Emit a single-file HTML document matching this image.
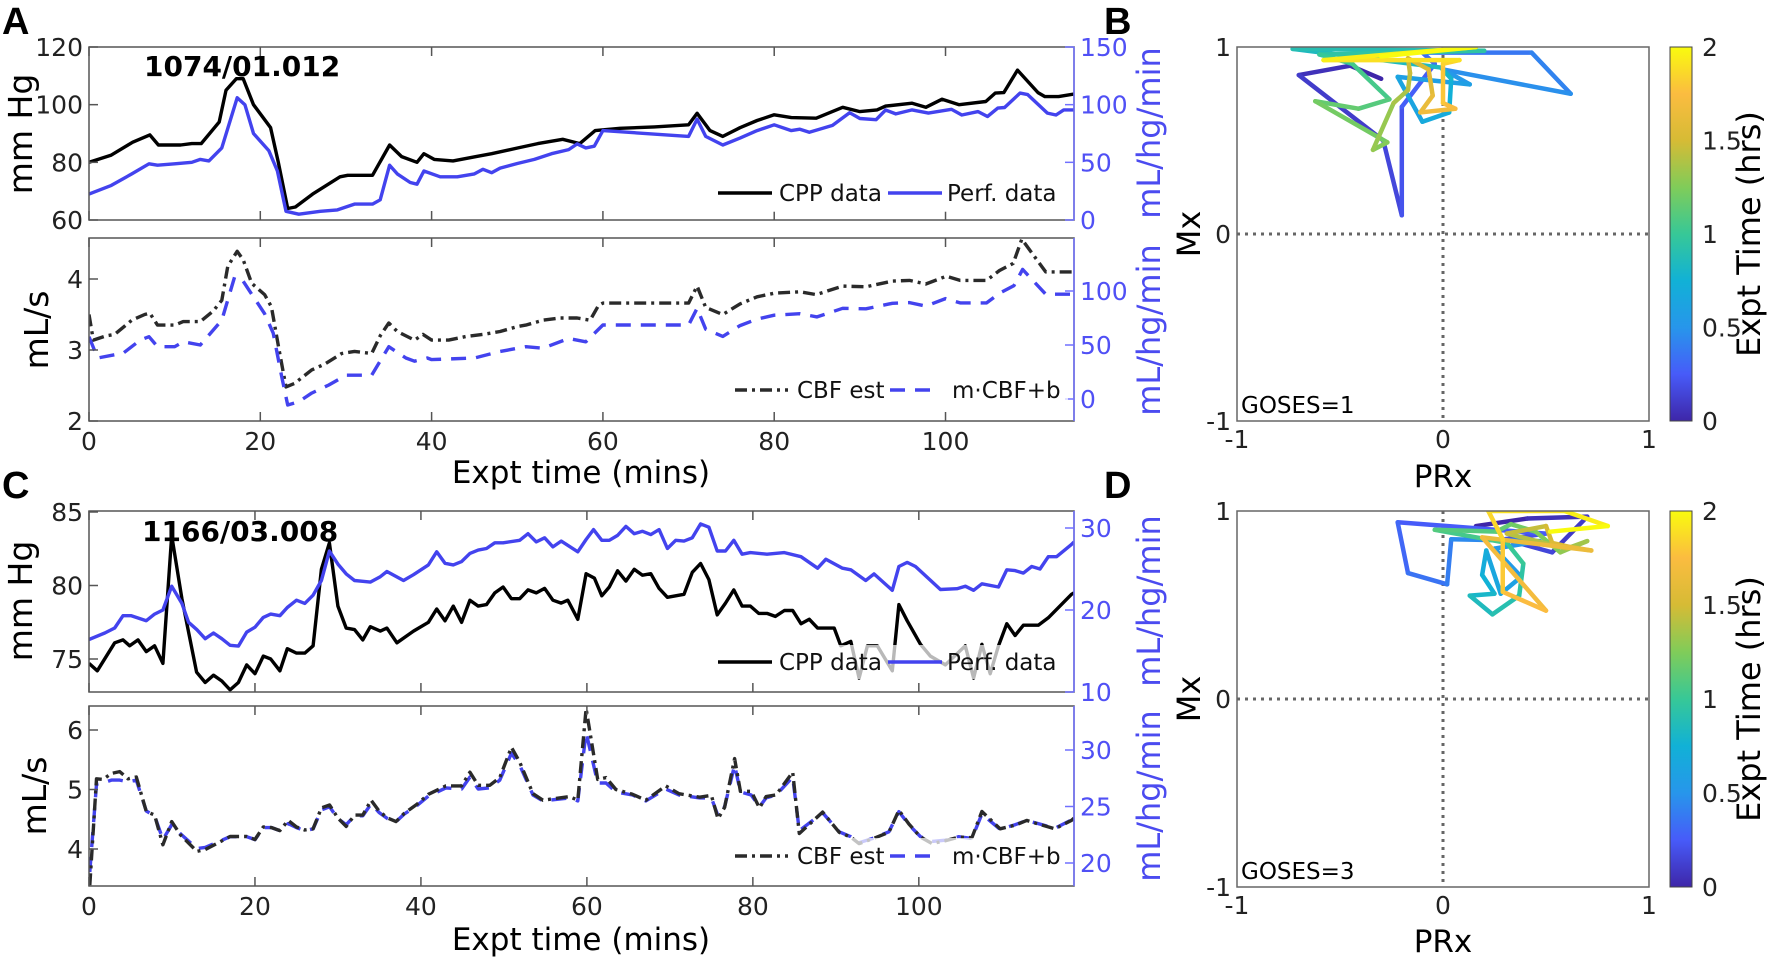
<!DOCTYPE html>
<html><head><meta charset="utf-8">
<style>
html,body{margin:0;padding:0;background:#fff;}
svg{display:block;font-family:"DejaVu Sans","Liberation Sans",sans-serif;}
</style></head>
<body>
<svg id="fig" width="1772" height="958" viewBox="0 0 1772 958" xmlns="http://www.w3.org/2000/svg">
<defs>
<linearGradient id="parula" x1="0" y1="1" x2="0" y2="0">
<stop offset="0" stop-color="#3e26a8"/><stop offset="0.125" stop-color="#475bf9"/><stop offset="0.25" stop-color="#2796eb"/><stop offset="0.375" stop-color="#11b1d6"/><stop offset="0.5" stop-color="#37c897"/><stop offset="0.625" stop-color="#80cc59"/><stop offset="0.75" stop-color="#d6bb35"/><stop offset="0.875" stop-color="#fbbc40"/><stop offset="1" stop-color="#f9fb0e"/>
</linearGradient>
<clipPath id="clipAT"><rect x="89" y="47" width="985" height="173"/></clipPath>
<clipPath id="clipAL"><rect x="89" y="238" width="985" height="183"/></clipPath>
<clipPath id="clipCT"><rect x="89" y="511" width="985" height="181"/></clipPath>
<clipPath id="clipCL"><rect x="89" y="706" width="985" height="180"/></clipPath>
<clipPath id="clipB"><rect x="1237" y="47" width="412" height="374"/></clipPath>
<clipPath id="clipD"><rect x="1237" y="511" width="412" height="376"/></clipPath>
</defs>

<text x="2" y="34" font-size="38" font-weight="bold" font-family="Liberation Sans">A</text>
<text x="1104" y="34" font-size="38" font-weight="bold" font-family="Liberation Sans">B</text>
<text x="2" y="498" font-size="38" font-weight="bold" font-family="Liberation Sans">C</text>
<text x="1104" y="498" font-size="38" font-weight="bold" font-family="Liberation Sans">D</text>

<g id="layers"></g>

<text x="144" y="76" font-size="28" font-weight="bold">1074/01.012</text>
<text x="142" y="541" font-size="28" font-weight="bold">1166/03.008</text>

<text transform="translate(32,134) rotate(-90)" text-anchor="middle" font-size="33">mm Hg</text>
<text transform="translate(48,330) rotate(-90)" text-anchor="middle" font-size="33">mL/s</text>
<text transform="translate(1160,133) rotate(-90)" text-anchor="middle" font-size="32" fill="#4b4bf0">mL/hg/min</text>
<text transform="translate(1160,330) rotate(-90)" text-anchor="middle" font-size="32" fill="#4b4bf0">mL/hg/min</text>
<text x="581" y="483" text-anchor="middle" font-size="31">Expt time (mins)</text>
<text transform="translate(32,601) rotate(-90)" text-anchor="middle" font-size="33">mm Hg</text>
<text transform="translate(46,796) rotate(-90)" text-anchor="middle" font-size="33">mL/s</text>
<text transform="translate(1160,601) rotate(-90)" text-anchor="middle" font-size="32" fill="#4b4bf0">mL/hg/min</text>
<text transform="translate(1160,796) rotate(-90)" text-anchor="middle" font-size="32" fill="#4b4bf0">mL/hg/min</text>
<text x="581" y="950" text-anchor="middle" font-size="31">Expt time (mins)</text>

<text transform="translate(1200,234) rotate(-90)" text-anchor="middle" font-size="32">Mx</text>
<text x="1443" y="487" text-anchor="middle" font-size="31">PRx</text>
<text transform="translate(1760,234) rotate(-90)" text-anchor="middle" font-size="32">Expt Time (hrs)</text>
<text x="1241" y="413" font-size="23">GOSES=1</text>

<text transform="translate(1200,699) rotate(-90)" text-anchor="middle" font-size="32">Mx</text>
<text x="1443" y="952" text-anchor="middle" font-size="31">PRx</text>
<text transform="translate(1760,699) rotate(-90)" text-anchor="middle" font-size="32">Expt Time (hrs)</text>
<text x="1241" y="879" font-size="23">GOSES=3</text>

<rect x="1670" y="47" width="22" height="374" fill="url(#parula)" stroke="#444" stroke-width="1"/>
<rect x="1670" y="511" width="22" height="376" fill="url(#parula)" stroke="#444" stroke-width="1"/>
</svg>

<script>
// ---------- Panel A data ----------
const aXTicks = [0, 20, 40, 60, 80, 100];
const aCppT = [0,2.6,5.1,7.1,8.1,10.7,12,13.1,15.2,16,17.2,18,19.2,21.2,22.1,23.2,24.1,26.1,27.7,29.3,30.2,33.1,35.1,36.5,38.3,39.1,40.3,42.5,45.2,47,50.1,52.4,55.3,57.3,59.1,62,66,70,71,72.5,74,76,78,80,82,84.9,88,90,92,93,96.1,97.7,99.6,101.6,104.7,105.8,106.8,108.4,110.8,111.6,113.2,115];
const aCppV = [80,82.5,87,89.5,86,86,86.5,86.5,94,105,109,109,100,92,80,64,64.5,69,72,75,75.5,75.5,86,82,80,83,81,80.5,82,83,85,86.5,88,86.5,91,91.8,92.3,93,97,91,89,92,94.5,96.5,95.5,95.3,99.1,97.6,98.2,99.5,100.5,99.1,101.9,100,101.1,104,104.2,112,104.2,102.8,102.8,103.7];
const aPerfT = [0,2.6,5,7,8,10,12,13,14,15.5,17.3,18.2,19.2,21,22,23,24.5,27,29,31,33.1,34,35.1,36,37.5,38.3,39.1,41,43,45,46,47,48,50,52,54,56,57,58,59,60,70,71,72,74,76,78,80,82,83,84.1,86.8,88.8,90,91.9,93,94.2,96.1,98,100.7,101.9,103.8,104.9,106.1,106.9,108.7,109.6,111.9,112.9,113.8,115];
const aPerfV = [22.5,30,40,48.75,47.5,48.75,50,52.5,51.25,62.5,106,100,75,60,42.5,7.5,5,7.5,8.75,13.75,13.75,17.5,47.5,40,32.5,31,42.5,37.5,37.5,40,44,41,45,49,52.5,57.5,61,66,62.5,64,77.5,72.5,87.5,72.5,65,71,77.5,82.5,77.5,78.7,76,82,93,88,87,95.4,92,95.5,92.7,96,91,94,89.7,97,97.5,110,108.7,92.7,91,95.5,95.5];
const aCbfT = [0,0.5,2,3,5,6.5,7.1,8,10,11,13,14.5,15.5,16.2,17.3,18,19,20.5,21.3,22.2,23,24,26,27.5,29.5,31,33,34,35,36,38,39,40,42,44,46,48,50,51,53,55,57,58.5,59.5,60,70,71,72,74,76,78,80,83,84.9,88,90.7,93.8,95.8,97.7,100.1,101.7,104.8,106.3,107.9,108.9,111.7,115];
const aCbfV = [3.5,3.14,3.2,3.22,3.42,3.5,3.52,3.35,3.35,3.4,3.4,3.55,3.7,4.18,4.39,4.27,3.94,3.78,3.61,3,2.48,2.53,2.72,2.8,2.95,2.98,2.95,3.2,3.38,3.26,3.14,3.22,3.14,3.14,3.19,3.22,3.26,3.33,3.35,3.42,3.45,3.45,3.42,3.63,3.66,3.66,3.9,3.6,3.5,3.65,3.75,3.8,3.82,3.78,3.9,3.89,3.97,3.98,3.93,4.04,3.98,3.98,4.12,4.22,4.56,4.1,4.1];
const aMcbfT = [0,1,4,6,7,8,10,11,13,15.5,17,18,20.5,21.5,22.5,23.2,24.5,26,28,30,33,35,37,38,39.5,40,45,48,51,53,56,58,60,70,71,72,74,76,78,80,83,85,88,90.7,93.8,95.8,97.7,100,101.7,104.8,106.3,108,109,111.7,115];
const aMcbfV = [57.7,38,42.5,54.6,57.7,48.4,48.4,53,50,73,113,109,79,61,20.7,-5.6,-2.5,5.5,13,22,22,48.4,38,35,38,36.5,38,44,48.4,47,56,53,68.5,68.5,84,64.6,58,68,74,77.6,79,76,84,83.5,88.6,89.3,86,93,89,89,98,105,120,97,97];
const aTopLeftTicks = [60, 80, 100, 120];
const aTopRightTicks = [0, 50, 100, 150];
const aLowLeftTicks = [2, 3, 4];
const aLowRightTicks = [0, 50, 100];

// ---------- Panel C data ----------
const cXTicks = [0, 20, 40, 60, 80, 100];
const cCppT = [0,1,3.1,4.1,4.9,5.9,6.9,7.9,8.9,9.96,11.2,12.97,14,15,16,17,18,19,20,21,21.9,23,23.9,25,26,27,28,28.97,30,31,32,33,33.9,35.1,35.9,37.1,39.1,40.9,41.9,42.9,43.9,44.9,45.9,46.9,47.9,48.9,49.9,50.9,51.9,52.9,53.9,54.9,55.9,56.9,57.7,58.9,59.9,60.9,61.8,62.7,63.7,64.7,65.7,66.7,67.7,68.7,69.7,71.7,72.7,73.7,74.7,75.7,76.7,77.7,78.7,79.7,80.7,81.7,82.7,83.8,84.8,85.8,86.8,87.8,89.8,90.6,91.8,92.8,93.8,95,96.8,97.6,98.6,100.2,101.4,103.2,105.6,106.6,107.6,108.6,109.6,110.6,111.6,112.6,114.4,115.6,118.4,118.7];
const cCppV = [74.7,74.2,76.1,76.3,75.9,76.3,75.5,75.9,74.7,83.4,79.1,74.1,73.4,73.9,73.5,72.9,73.4,74.6,74,75.2,75,74.2,75.7,75.4,75.4,75.9,81.1,82.9,78.6,77.1,77,76.3,77.2,76.9,77.1,76.1,76.9,77.5,78.4,77.6,78.6,77.5,79,78.6,78.7,79.5,79.9,79.1,79.1,79.7,79.5,79.8,79,78.8,79,77.7,80.8,80.5,79.3,79.9,81,80.3,81.1,80.7,80.8,79.8,79.2,79.4,80.9,81.5,80.4,78,78.8,79.7,78.6,78.6,78.1,78.1,77.9,78.3,78.3,77.4,77.7,77.1,77.1,75.9,76.2,73.7,75.9,75.9,74.2,78.7,77.6,76,75.2,74.6,75.9,73.7,76,74,75.9,77.4,76.6,77.3,77.3,77.8,79.4,79.5];
const cPerfT = [0,1.9,3.1,4.1,5.1,6.9,7.9,8.9,9.96,11.2,12,13,14,15,16,17,18,19,20,21,21.9,23,23.9,25,26,27,28,28.97,30,31,32,33,33.9,35.1,35.9,37.9,39.1,40.9,41.9,42.9,43.9,44.9,45.9,46.9,47.9,48.9,49.9,51.9,52.9,53.9,54.9,55.9,56.9,58.9,59.9,60.8,61.8,62.7,63.7,64.7,65.7,66.7,67.7,68.7,69.7,70.7,71.7,72.7,73.7,74.7,75.7,76.7,77.7,78.7,79.7,81.7,83.8,85.8,87.8,88.8,90.8,91.8,93.6,94.6,96.8,97.6,98.6,99.6,102.6,104.6,105.6,106.6,107.6,109.6,110.6,111.6,112.6,113.6,114.6,115.6,116.6,118.4,118.7];
const cPerfV = [16.4,17.2,17.8,19.3,19.3,18.7,19.5,20,22.9,20.8,18.5,17.6,16.5,17.2,16.5,15.7,15.6,17.3,17.9,19.1,19.5,19.3,20.3,21.2,20.8,21.8,23.6,27.2,25.6,24.4,23.6,23.5,23.4,24.06,24.7,23.6,24.3,25.5,27.1,25.7,25.5,25.9,26.9,27.3,27.5,28.2,28.2,28.5,29.3,28.3,28.8,27.7,28.4,27.1,28.6,29.8,28.5,28.5,29.1,30.2,29.3,29.6,29.2,29.8,27.5,28.5,28.4,28.8,30.5,30.1,27.2,27.2,28.5,26.8,27,26.8,27,26.5,25.1,26.2,25.1,24.9,23.6,24.4,22.4,25.3,25.8,25.3,22.5,22.6,22.9,22.4,23.2,22.8,24.9,24.8,24.5,25.3,25,26.5,26.5,28,28.3];
const cCbfT = [0.1,0.9,1.7,2.7,3.7,4.7,5.7,6.9,7.9,8.9,9.96,11,13,14,17,19,20,21,22,23,24,25,26,27,28,29,30,31,32,33,34,35,36,37,38,39.5,40.9,43,44.9,45.9,46.9,48.3,49.5,50.9,51.9,53.5,54.7,57.9,58.9,59.9,61.3,62.3,63.5,65.5,67.1,69.5,71.1,73.6,75,75.8,76.6,77.8,78.5,79.8,80.8,81.6,82.8,84.8,85.6,88.4,90.4,91.8,92.8,94.4,96.4,97.6,98.8,100.2,101.6,103.2,104.8,106.4,107.6,109.8,111.6,113,114.4,116.4,118.4,118.7];
const cCbfV = [3.39,5.18,5.17,5.27,5.3,5.18,5.21,4.63,4.57,4.07,4.46,4.24,3.96,3.99,4.21,4.21,4.16,4.37,4.36,4.31,4.48,4.37,4.32,4.34,4.69,4.74,4.52,4.38,4.57,4.57,4.82,4.63,4.52,4.46,4.6,4.75,4.92,5.06,5.06,5.29,5.07,5.07,5.2,5.71,5.46,4.93,4.82,4.88,4.82,6.36,5.17,5.2,5.0,4.92,4.82,5.06,4.93,4.87,4.9,4.51,4.7,5.52,4.97,4.97,4.69,4.88,4.91,5.29,4.26,4.62,4.28,4.2,4.09,4.17,4.28,4.65,4.42,4.2,4.09,4.14,4.2,4.19,4.63,4.34,4.4,4.48,4.42,4.34,4.48,4.52];
const cMcbfV = [19.2,26.97,27.08,27.34,27.34,27.18,27.34,24.6,24.18,22.07,23.39,22.6,21.28,21.38,22.33,22.33,22.07,23.13,23.13,22.86,23.49,23.13,22.86,23.02,24.71,24.97,23.92,23.39,24.18,24.18,25.23,24.44,23.92,23.65,24.34,25.07,25.92,26.65,26.55,27.6,26.55,26.65,27.34,29.71,28.66,26.02,25.5,25.76,25.5,31.56,27.08,27.08,26.29,26.02,25.5,26.55,26.02,25.76,25.76,24.18,24.97,28.66,26.29,26.02,24.97,25.76,26.02,27.6,22.86,24.44,22.76,22.33,21.8,22.17,22.76,24.55,23.39,22.33,21.91,22.02,22.33,22.17,24.34,22.97,23.39,23.76,23.49,23.07,23.81,23.92];
const cTopLeftTicks = [75, 80, 85];
const cTopRightTicks = [10, 20, 30];
const cLowLeftTicks = [4, 5, 6];
const cLowRightTicks = [20, 25, 30];

// ---------- Panel B / D data ----------
const bPrx = [-0.3,-0.45,-0.7,-0.29,-0.2,-0.2,-0.04,-0.1,0.43,0.62,0.0,0.13,-0.22,-0.1,0.03,0.04,-0.01,-0.73,0.2,-0.6,-0.44,-0.26,-0.41,-0.62,-0.27,-0.34,-0.24,-0.17,-0.16,-0.17,-0.07,-0.05,-0.11,0.06,0.0,0.0,0.08,-0.58,0.16,-0.3];
const bMx = [0.83,0.9,0.85,0.5,0.1,0.68,0.91,0.97,0.97,0.75,0.88,0.8,0.84,0.6,0.65,0.83,0.89,0.99,0.98,0.96,0.91,0.72,0.67,0.71,0.49,0.45,0.7,0.77,0.86,0.94,0.88,0.74,0.65,0.67,0.7,0.91,0.93,0.93,1.0,0.95];
const dPrx = [0.16,0.41,0.7,0.53,0.3,0.5,-0.22,-0.17,0.02,0.04,0.47,0.25,0.38,0.28,0.21,0.19,0.25,0.13,0.24,0.37,0.39,0.31,-0.04,0.26,0.33,0.45,0.57,0.7,0.6,0.31,0.5,0.53,0.61,0.72,0.19,0.5,0.29,0.29,0.22,0.59,0.8,0.52];
const dMx = [0.92,0.96,0.97,0.78,0.85,0.88,0.94,0.67,0.61,0.85,0.84,0.8,0.65,0.56,0.79,0.66,0.56,0.55,0.45,0.55,0.72,0.83,0.9,0.89,0.93,0.89,0.78,0.84,0.8,0.88,0.92,0.83,0.81,0.79,0.86,0.47,0.57,0.85,1.0,1.0,0.92,0.89];
const pmTicks = [-1, 0, 1];
const cbTicks = [0, 0.5, 1, 1.5, 2];

// ---------- helpers ----------
const NS = 'http://www.w3.org/2000/svg';
const root = document.getElementById('layers');
const TICKFS = 25;
function mk(tag, attrs, parent) {
  const e = document.createElementNS(NS, tag);
  for (const k in attrs) e.setAttribute(k, attrs[k]);
  (parent || root).appendChild(e);
  return e;
}
function lin(d0, d1, r0, r1) { return v => r0 + (v - d0) * (r1 - r0) / (d1 - d0); }
function pathD(xs, ys, sx, sy) {
  const n = Math.min(xs.length, ys.length);
  let d = '';
  for (let i = 0; i < n; i++) d += (i ? 'L' : 'M') + sx(xs[i]).toFixed(1) + ',' + sy(ys[i]).toFixed(1);
  return d;
}
function series(xs, ys, sx, sy, clip, stroke, dash, name) {
  const p = mk('path', {d: pathD(xs, ys, sx, sy), fill: 'none', stroke: stroke, 'stroke-width': 3.4, 'stroke-linejoin': 'round', 'clip-path': 'url(#' + clip + ')'});
  if (dash) p.setAttribute('stroke-dasharray', dash);
  
  
  return p;
}
function tsFrame(x0, x1, y0, y1, name) {
  const r = mk('rect', {x: x0, y: y0, width: x1 - x0, height: y1 - y0, fill: 'none', stroke: '#555', 'stroke-width': 1.5});
  
  
  const l = mk('line', {x1: x1, y1: y0, x2: x1, y2: y1, stroke: '#7070ff', 'stroke-width': 1.5});
  
  
}
function xTicks(ticks, sx, y0, y1, labels, name) {
  ticks.forEach(t => {
    const x = sx(t);
    const a = mk('line', {x1: x, y1: y1, x2: x, y2: y1 - 9, stroke: '#555', 'stroke-width': 1.5});
    
    
    const b = mk('line', {x1: x, y1: y0, x2: x, y2: y0 + 9, stroke: '#555', 'stroke-width': 1.5});
    
    
    if (labels) {
      const tx = mk('text', {x: x, y: y1 + 29, 'text-anchor': 'middle', 'font-size': TICKFS, fill: '#222'});
      tx.textContent = String(t);
      
      
    }
  });
}
function yTicksLeft(ticks, sy, x0, name) {
  ticks.forEach(t => {
    const y = sy(t);
    const a = mk('line', {x1: x0, y1: y, x2: x0 + 9, y2: y, stroke: '#555', 'stroke-width': 1.5});
    
    
    const tx = mk('text', {x: x0 - 6, y: y + 9, 'text-anchor': 'end', 'font-size': TICKFS, fill: '#222'});
    tx.textContent = String(t);
    
    
  });
}
function yTicksRight(ticks, sy, x1, name) {
  ticks.forEach(t => {
    const y = sy(t);
    const a = mk('line', {x1: x1, y1: y, x2: x1 - 9, y2: y, stroke: '#7070ff', 'stroke-width': 1.5});
    
    
    const tx = mk('text', {x: x1 + 6, y: y + 9, 'text-anchor': 'start', 'font-size': TICKFS, fill: '#5050f5'});
    tx.textContent = String(t);
    
    
  });
}
function legend(x, y, w, h, items, name) {
  const bg = mk('rect', {x: x, y: y, width: w, height: h, fill: '#fff', 'fill-opacity': 0.72});
  
  
  items.forEach(it => {
    const ln = mk('line', {x1: it.x0, y1: y + h / 2, x2: it.x1, y2: y + h / 2, stroke: it.c, 'stroke-width': 3.4});
    if (it.dash) ln.setAttribute('stroke-dasharray', it.dash);
    
    
    const tx = mk('text', {x: it.tx, y: y + h / 2 + 8, 'font-size': 23, fill: '#111'});
    tx.textContent = it.label;
    
    
  });
}
const BLK = '#000', BLU = '#4343ee', DKG = '#2a2a2a';
const DASHDOT = '12 5 3 5', DASH = '15 10';

// ---------- Panel A ----------
const sxA = lin(0, 115, 89, 1074);
const syAT = lin(60, 120, 220, 47);
const syATR = lin(0, 150, 220, 47);
const syAL = lin(2, 4, 421, 279);
const syALR = lin(0, 100, 399, 291);
series(aCppT, aCppV, sxA, syAT, 'clipAT', BLK, null, 'cpp-line-a');
series(aPerfT, aPerfV, sxA, syATR, 'clipAT', BLU, null, 'perf-line-a');
series(aCbfT, aCbfV, sxA, syAL, 'clipAL', DKG, DASHDOT, 'cbf-est-line-a');
series(aMcbfT, aMcbfV, sxA, syALR, 'clipAL', BLU, DASH, 'mcbf-line-a');
tsFrame(89, 1074, 47, 220, 'a-top-axes');
tsFrame(89, 1074, 238, 421, 'a-low-axes');
xTicks(aXTicks, sxA, 47, 220, false, 'a-top-x');
xTicks(aXTicks, sxA, 238, 421, true, 'a-low-x');
yTicksLeft(aTopLeftTicks, syAT, 89, 'a-top-y');
yTicksRight(aTopRightTicks, syATR, 1074, 'a-top-right-y');
yTicksLeft(aLowLeftTicks, syAL, 89, 'a-low-y');
yTicksRight(aLowRightTicks, syALR, 1074, 'a-low-right-y');
legend(712, 174, 356, 38, [{x0: 718, x1: 772, c: BLK, tx: 779, label: 'CPP data'}, {x0: 888, x1: 942, c: BLU, tx: 947, label: 'Perf. data'}], 'legend-a-top');
legend(728, 372, 340, 36, [{x0: 735, x1: 788, c: DKG, dash: DASHDOT, tx: 797, label: 'CBF est'}, {x0: 890, x1: 935, c: BLU, dash: DASH, tx: 952, label: 'm\u00b7CBF+b'}], 'legend-a-low');

// ---------- Panel C ----------
const sxC = lin(0, 118.7, 89, 1074);
const syCT = lin(75, 85, 659, 512);
const syCTR = lin(10, 30, 692, 528);
const syCL = lin(4, 6, 849, 730);
const syCLR = lin(20, 30, 863, 750);
series(cCppT, cCppV, sxC, syCT, 'clipCT', BLK, null, 'cpp-line-c');
series(cPerfT, cPerfV, sxC, syCTR, 'clipCT', BLU, null, 'perf-line-c');
series(cCbfT, cMcbfV, sxC, syCLR, 'clipCL', BLU, DASH, 'mcbf-line-c');
series(cCbfT, cCbfV, sxC, syCL, 'clipCL', DKG, DASHDOT, 'cbf-est-line-c');
legend(712, 645, 356, 34, [{x0: 718, x1: 772, c: BLK, tx: 779, label: 'CPP data'}, {x0: 888, x1: 942, c: BLU, tx: 947, label: 'Perf. data'}], 'legend-c-top');
legend(728, 838, 340, 36, [{x0: 735, x1: 788, c: DKG, dash: DASHDOT, tx: 797, label: 'CBF est'}, {x0: 890, x1: 935, c: BLU, dash: DASH, tx: 952, label: 'm\u00b7CBF+b'}], 'legend-c-low');
tsFrame(89, 1074, 511, 692, 'c-top-axes');
tsFrame(89, 1074, 706, 886, 'c-low-axes');
xTicks(cXTicks, sxC, 511, 692, false, 'c-top-x');
xTicks(cXTicks, sxC, 706, 886, true, 'c-low-x');
yTicksLeft(cTopLeftTicks, syCT, 89, 'c-top-y');
yTicksRight(cTopRightTicks, syCTR, 1074, 'c-top-right-y');
yTicksLeft(cLowLeftTicks, syCL, 89, 'c-low-y');
yTicksRight(cLowRightTicks, syCLR, 1074, 'c-low-right-y');

// ---------- Panels B / D ----------
const parulaStops = [[62,38,168],[71,91,249],[39,150,235],[17,177,214],[55,200,151],[128,204,89],[214,187,53],[251,188,64],[249,251,14]];
function parula(f) {
  f = Math.max(0, Math.min(1, f)) * (parulaStops.length - 1);
  const i = Math.min(Math.floor(f), parulaStops.length - 2), r = f - i;
  const a = parulaStops[i], b = parulaStops[i + 1];
  return 'rgb(' + a.map((v, k) => Math.round(v + (b[k] - v) * r)).join(',') + ')';
}
function scatterPanel(px, my, x0, x1, y0, y1, clip, name, cbX) {
  const sx = lin(-1, 1, x0, x1), sy = lin(-1, 1, y1, y0);
  const vx = mk('line', {x1: sx(0), y1: y0, x2: sx(0), y2: y1, stroke: '#666', 'stroke-width': 3, 'stroke-dasharray': '3 5'});
  
  
  const hz = mk('line', {x1: x0, y1: sy(0), x2: x1, y2: sy(0), stroke: '#666', 'stroke-width': 3, 'stroke-dasharray': '3 5'});
  
  
  const n = Math.min(px.length, my.length);
  for (let i = 0; i < n - 1; i++) {
    const seg = mk('line', {x1: sx(px[i]), y1: sy(my[i]), x2: sx(px[i + 1]), y2: sy(my[i + 1]), stroke: parula(i / (n - 2)), 'stroke-width': 4.5, 'stroke-linecap': 'round', 'clip-path': 'url(#' + clip + ')'});
    
    
  }
  const fr = mk('rect', {x: x0, y: y0, width: x1 - x0, height: y1 - y0, fill: 'none', stroke: '#666', 'stroke-width': 1.5});
  
  
  pmTicks.forEach(t => {
    const tx = mk('text', {x: sx(t), y: y1 + 27, 'text-anchor': 'middle', 'font-size': TICKFS, fill: '#222'});
    tx.textContent = String(t);
    
    
    const ty = mk('text', {x: x0 - 6, y: sy(t) + 9, 'text-anchor': 'end', 'font-size': TICKFS, fill: '#222'});
    ty.textContent = String(t);
    
    
  });
  const sc = lin(0, 2, y1, y0);
  cbTicks.forEach(t => {
    const tk = mk('line', {x1: cbX + 22, y1: sc(t), x2: cbX + 16, y2: sc(t), stroke: '#444', 'stroke-width': 1});
    
    
    const tl = mk('text', {x: cbX + 32, y: sc(t) + 9, 'font-size': TICKFS, fill: '#222'});
    tl.textContent = String(t);
    
    
  });
}
scatterPanel(bPrx, bMx, 1237, 1649, 47, 421, 'clipB', 'b', 1670);
scatterPanel(dPrx, dMx, 1237, 1649, 511, 887, 'clipD', 'd', 1670);
</script>
</body></html>
